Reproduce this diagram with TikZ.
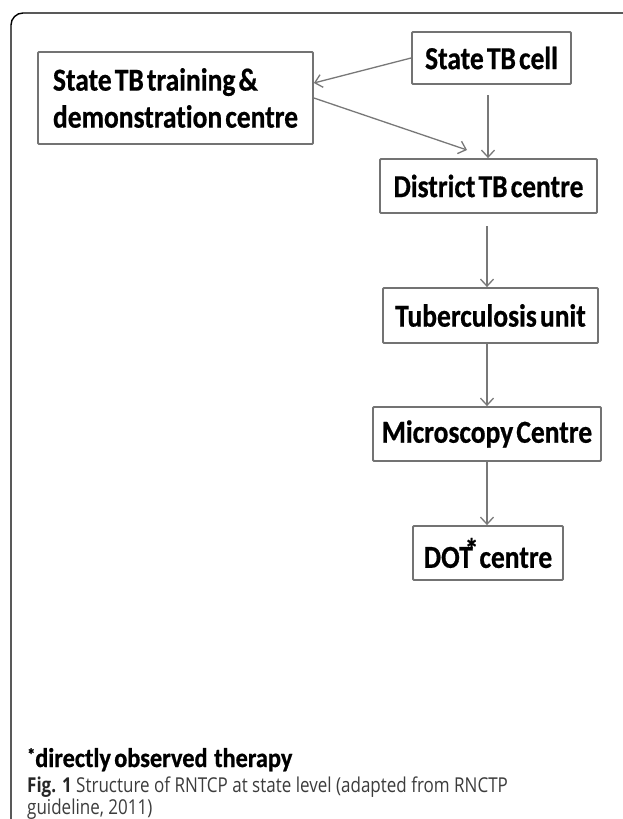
\documentclass[tikz,border=0pt]{standalone}
\usepackage{fontspec}
\setmainfont{Carlito}
\newfontfamily\boxfont[FakeStretch=0.86,WordSpace=0.5,Ligatures=NoCommon,FakeBold=0.6]{Carlito}
\newfontfamily\fnfont[FakeStretch=0.9,WordSpace=0.6,FakeBold=0.8]{Carlito}
\newfontfamily\capfont[FakeStretch=0.83]{Open Sans}
\usetikzlibrary{arrows.meta}
\definecolor{boxgray}{RGB}{115,115,115}
\definecolor{arrgray}{RGB}{120,120,120}
\definecolor{captext}{RGB}{60,60,60}
\tikzset{
  unit/.style={draw=boxgray, line width=1.8pt, fill=white, inner sep=0pt, rounded corners=1pt,
    font=\boxfont\bfseries\fontsize{32}{37}\selectfont, text=black, align=left},
  conn/.style={draw=arrgray, line width=1.3pt, -{Straight Barb[length=7pt,width=13pt,line width=1.3pt]}},
  captxt/.style={anchor=base west, inner sep=0pt, text=captext, font=\capfont\fontsize{20.5}{22}\selectfont},
}
\begin{document}
\begin{tikzpicture}[x=1pt,y=-1pt]
\useasboundingbox (0,0) rectangle (622,819);
\fill[white] (0,0) rectangle (622,819);
% outer frame
\draw[line width=1.4pt, rounded corners=12pt] (625,13) -- (11,13) -- (11,822);
% nodes
\node[unit, minimum width=159pt, minimum height=52pt] (cell) at (491.5,58) {State TB cell};
\node[unit, minimum width=275pt, minimum height=92pt] (train) at (175.5,98) {State TB training \&\\demonstration centre};
\node[unit, minimum width=217pt, minimum height=54pt] (district) at (488.5,186) {District TB centre};
\node[unit, minimum width=215pt, minimum height=55pt] (tu) at (490.5,315.5) {Tuberculosis unit};
\node[unit, minimum width=228pt, minimum height=54pt] (micro) at (487,434) {Microscopy Centre};
\node[unit, minimum width=150pt, minimum height=54pt] (dot) at (488,553) {DOT\hspace{-8pt}\raisebox{7pt}{*}\hspace{1pt}centre};
% free ends
\coordinate (c1) at (488,95);
\coordinate (c2) at (467,150);
\coordinate (c3) at (487,226);
% connectors
\draw[conn] (cell.west |- 0,58) -- (train.east |- 0,83);
\draw[conn] (train.east |- 0,98) -- (c2);
\draw[conn] (c1) -- (c1 |- district.north);
\draw[conn] (c3) -- (c3 |- tu.north);
\draw[conn] (tu.south -| c3) -- (c3 |- micro.north);
\draw[conn] (micro.south -| c3) -- (c3 |- dot.north);
% footnote and caption
\node[anchor=base west, inner sep=0pt, font=\fnfont\bfseries\fontsize{27}{30}\selectfont] (fn) at (27,767) {\raisebox{6pt}{\fontsize{18}{20}\selectfont*}directly observed\ \ therapy};
\node[captxt] (cap1) at (27,792) {\textbf{\color{black!85}Fig. 1} Structure of RNTCP at state level (adapted from RNCTP};
\node[captxt] (cap2) at (27,814) {guideline, 2011)};
\end{tikzpicture}
\end{document}
